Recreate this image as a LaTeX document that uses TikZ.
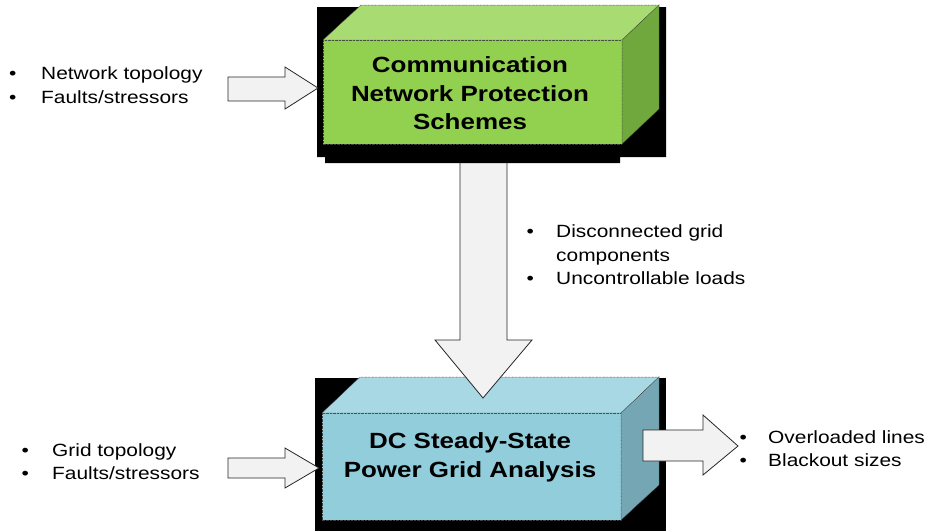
\documentclass[tikz,border=0pt]{standalone}
\usepackage{fontspec}
\setmainfont{Liberation Sans}[FakeStretch=1.18]
\definecolor{gnfront}{RGB}{146,208,80}
\definecolor{gntop}{RGB}{169,219,115}
\definecolor{gnside}{RGB}{113,168,62}
\definecolor{blfront}{RGB}{146,205,220}
\definecolor{bltop}{RGB}{168,216,227}
\definecolor{blside}{RGB}{116,167,179}
\definecolor{arrfill}{RGB}{242,242,242}
\newcommand\bl[1]{\makebox[#1][l]{\textbullet}}
\begin{document}
\begin{tikzpicture}[x=1pt,y=-1pt,
  edge/.style={draw=black!75,line width=0.5pt,dash pattern=on 0.7pt off 0.7pt},
  blockarr/.style={draw=black!85,line width=0.8pt,fill=arrfill},
  item/.style={anchor=base west,inner sep=0pt,font=\fontsize{17.7}{21}\selectfont},
  title/.style={align=center,inner sep=0pt,font=\bfseries\fontsize{22}{28.5}\selectfont}]
\useasboundingbox (0,0) rectangle (932,531);
% grid analysis box
\fill (315,378) rectangle (666,531);
\draw[edge,fill=blfront] (322,413) rectangle (621,520);
\draw[edge,fill=bltop] (322,413)--(360,377)--(659,377)--(621,413)--cycle;
\draw[edge,fill=blside] (621,413)--(659,377)--(659,485)--(621,520)--cycle;
\node[title] (grid) at (470,457.5) {DC Steady-State\\Power Grid Analysis};
% down arrow
\draw[blockarr] (460,150)--(507,150)--(507,340)--(532,340)--(483,398)--(435,340)--(460,340)--cycle;
% communication box
\fill (317,7) rectangle (666,157) (325,157) rectangle (620,163);
\draw[edge,fill=gnfront] (323,40) rectangle (622,144);
\draw[edge,fill=gntop] (323,40)--(361,5)--(659,5)--(622,40)--cycle;
\draw[edge,fill=gnside] (622,40)--(659,5)--(659,109)--(622,144)--cycle;
\node[title] (comm) at (470,93.5) {Communication\\Network Protection\\Schemes};
% side arrows
\draw[blockarr] (228,77)--(285,77)--(285,67)--(318,88)--(285,109)--(285,101)--(228,101)--cycle;
\draw[blockarr] (228,458)--(285,458)--(285,448)--(319,468)--(285,488)--(285,478)--(228,478)--cycle;
\draw[blockarr] (643,430)--(703,430)--(703,415)--(738,446)--(703,475)--(703,461)--(643,461)--cycle;
% inputs and outputs
\node[item] (nettop) at (9,79) {\bl{32pt}Network topology};
\node[item] (netflt) at (9,103) {\bl{32pt}Faults/stressors};
\node[item] (gridtop) at (21.4,456) {\bl{30.6pt}Grid topology};
\node[item] (gridflt) at (21.4,479) {\bl{30.6pt}Faults/stressors};
\node[item] (disc) at (526.4,237) {\bl{29.6pt}Disconnected grid};
\node[item] (comp) at (556,261) {components};
\node[item] (unctl) at (526.4,284) {\bl{29.6pt}Uncontrollable loads};
\node[item] (ovl) at (739.4,443) {\bl{28.6pt}Overloaded lines};
\node[item] (blk) at (739.4,466) {\bl{28.6pt}Blackout sizes};
\end{tikzpicture}
\end{document}
